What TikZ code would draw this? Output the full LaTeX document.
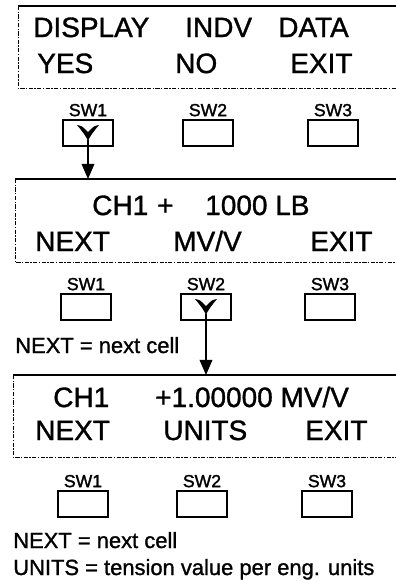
\documentclass[tikz,border=0pt]{standalone}
\usepackage{fontspec}
\setmainfont{Liberation Sans}
\newfontfamily\lcdfont{Liberation Sans}[FakeBold=1.2]
\newfontfamily\keyfont{Liberation Sans}[FakeBold=1.6]
\usetikzlibrary{arrows.meta,positioning}

\begin{document}
\begin{tikzpicture}[x=0.025cm, y=-0.025cm,
    lcd/.style={anchor=base west, inner sep=0pt, font=\lcdfont\fontsize{19.9pt}{24pt}\selectfont},
    note/.style={anchor=base west, inner sep=0pt, font=\lcdfont\fontsize{15.6pt}{18pt}\selectfont},
    swbox/.style={draw, line width=0.8pt, minimum width=1.25cm, minimum height=0.65cm, inner sep=0pt},
    swlab/.style={inner sep=0pt, font=\keyfont\fontsize{12.5pt}{14pt}\selectfont},
    topline/.style={line width=1.3pt},
    edge/.style={line width=0.5pt, dash pattern=on 3pt off 1pt on 1pt off 1pt},
    ptr/.style={line width=0.9pt, -{Triangle[length=0.38cm, width=0.32cm]}}]
\useasboundingbox (0,0) rectangle (396,581);

% display 1
\draw[topline] (18,6) -- (396,6);
\draw[edge] (18,6) -- (18,88) -- (396,88);
\node[lcd] (d1a) at (33,37) {DISPLAY};
\node[lcd] (d1b) at (185,37) {INDV};
\node[lcd] (d1c) at (278,37) {DATA};
\node[lcd] (d1d) at (37,73) {YES};
\node[lcd] (d1e) at (175,73) {NO};
\node[lcd] (d1f) at (290,73) {EXIT};

% display 2
\draw[topline] (15,179) -- (396,179);
\draw[edge] (15,179) -- (15,262) -- (396,262);
\node[lcd] (d2a) at (92,215) {CH1};
\node[lcd] (d2b) at (157,215) {+};
\node[lcd] (d2c) at (205,215) {1000 LB};
\node[lcd] (d2d) at (35,251) {NEXT};
\node[lcd] (d2e) at (173,251) {MV/V};
\node[lcd] (d2f) at (310,251) {EXIT};
\node[note] (n2) at (15,353) {NEXT = next cell};

% display 3
\draw[topline] (13,375) -- (396,375);
\draw[edge] (13,375) -- (13,457) -- (396,457);
\node[lcd] (d3a) at (53,407) {CH1};
\node[lcd] (d3b) at (155,407) {+1.00000 MV/V};
\node[lcd] (d3c) at (35,440) {NEXT};
\node[lcd] (d3d) at (163,440) {UNITS};
\node[lcd] (d3e) at (305,440) {EXIT};
\node[note] (n3a) at (13,548) {NEXT = next cell};
\node[note] (n3b) at (13,575) {UNITS = tension value per eng. units};

% switches
\foreach \row/\y/\xa/\xb/\xc in {a/133/88/208/333, b/307/86/206/330, c/504/83/202/327}{
    \foreach \n/\x in {1/\xa, 2/\xb, 3/\xc}{
        \node[swbox] (sw\n\row) at (\x,\y) {};
        \node[swlab, above=2pt of sw\n\row] (lb\n\row) {SW\n};
    }
}

% pressed keys
\foreach \k in {sw1a, sw2b}{
    \fill[shift={(\k.center)}] (-11,-8) .. controls (-6,-2) and (-2,3) .. (0,8)
        .. controls (2,3) and (6,-2) .. (11,-8) .. controls (6,-7) .. (0,-1)
        .. controls (-6,-7) .. (-11,-8) -- cycle;
}
\coordinate (in2) at (88,179);
\coordinate (in3) at (206,375);
\draw[ptr] (sw1a.center) ++(0,7) coordinate (k1) (k1) -- (in2);
\draw[ptr] (sw2b.center) ++(0,7) coordinate (k2) (k2) -- (in3);
\end{tikzpicture}
\end{document}
